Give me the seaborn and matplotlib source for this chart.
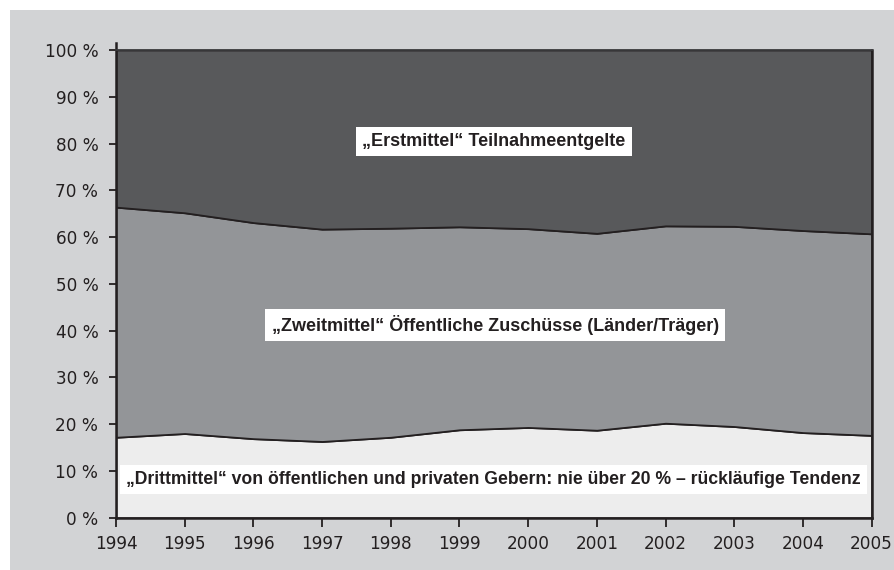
import numpy as np
import matplotlib.pyplot as plt
import seaborn as sns
from matplotlib.patches import Rectangle

# Anteile in Prozent (Summe je Jahr = 100)
years = [1994, 1995, 1996, 1997, 1998, 1999, 2000, 2001, 2002, 2003, 2004, 2005]
drittmittel = [17.2, 18.0, 16.9, 16.3, 17.2, 18.8, 19.3, 18.7, 20.2, 19.5, 18.2, 17.6]
zweit_top = [66.4, 65.2, 63.1, 61.7, 61.9, 62.2, 61.8, 60.8, 62.4, 62.3, 61.4, 60.7]
zweitmittel = [t - d for t, d in zip(zweit_top, drittmittel)]
erstmittel = [100 - t for t in zweit_top]

y_ticks = list(range(0, 101, 10))
y_labels = [f"{v} %" for v in y_ticks]

label_erst = "\u201eErstmittel\u201c Teilnahmeentgelte"
label_zweit = "\u201eZweitmittel\u201c \u00d6ffentliche Zusch\u00fcsse (L\u00e4nder/Tr\u00e4ger)"
label_dritt = ("\u201eDrittmittel\u201c von \u00f6ffentlichen und privaten Gebern: "
               "nie \u00fcber 20 % \u2013 r\u00fcckl\u00e4ufige Tendenz")

sns.set_style("ticks")
plt.rcParams['font.family'] = ['DejaVu Sans']

W, H = 895, 570
fig = plt.figure(figsize=(W / 100, H / 100), dpi=100)
fig.patch.set_facecolor("white")
fig.add_artist(Rectangle((10 / W, 0), 1 - 10 / W, 1 - 10 / H,
                         transform=fig.transFigure, facecolor="#d2d3d5",
                         edgecolor="none", zorder=-5))

ax = fig.add_axes([116 / W, (H - 517.7) / H, (871.6 - 116) / W, (517.7 - 50) / H])
ax.set_zorder(1)
ax.stackplot(years, drittmittel, zweitmittel, erstmittel,
             colors=["#ededed", "#939598", "#58595b"],
             edgecolor="#231f20", linewidth=1.3)

ax.set_xlim(1994, 2005)
ax.set_ylim(0, 100)
ax.set_xticks(years)
ax.set_yticks(y_ticks)
ax.set_yticklabels(y_labels)
ax.tick_params(axis="both", labelsize=12.2, colors="#231f20", width=1.3,
               direction="out")
ax.tick_params(axis="y", length=5.2, pad=7.5)
ax.tick_params(axis="x", length=6.8, pad=6)
for side in ["left", "bottom", "right"]:
    ax.spines[side].set_color("#231f20")
    ax.spines[side].set_linewidth(1.8)
ax.spines["left"].set_bounds(0, 101.5)
ax.spines["top"].set_color("#3a3a3c")
ax.spines["top"].set_linewidth(1.3)

box = dict(boxstyle="square,pad=0.35", facecolor="white", edgecolor="none")
font_lbl = dict(family=['Liberation Sans', 'DejaVu Sans'],
                fontweight="bold", color="#231f20",
                ha="center", va="center", bbox=box)
ax.text(1999.5, 80.4, label_erst, fontsize=13, **font_lbl)
ax.text(1999.52, 41.2, label_zweit, fontsize=13, **font_lbl)
ax.text(1999.5, 8.1, label_dritt, fontsize=12.7, **font_lbl)

fig.savefig("out.png", dpi=100, facecolor=fig.get_facecolor())
